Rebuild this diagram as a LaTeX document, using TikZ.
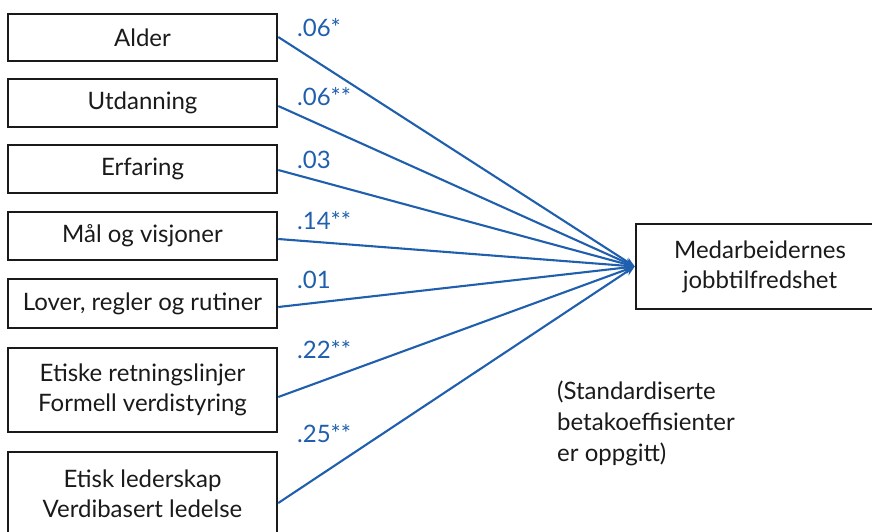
\documentclass[tikz,border=0pt]{standalone}
\usepackage{fontspec}
\setmainfont{Lato}
\usetikzlibrary{arrows.meta}
\definecolor{lineblue}{HTML}{1F5FAD}
\definecolor{boxblack}{HTML}{1A1A1A}
\begin{document}
\begin{tikzpicture}[x=1pt,y=-1pt,
  varbox/.style={draw=boxblack,line width=2.5pt,minimum width=269pt,inner sep=0pt,align=center,font=\fontsize{24}{30}\selectfont,text=boxblack},
  coef/.style={anchor=west,text=lineblue,font=\fontsize{24}{26}\selectfont,inner sep=0pt},
  path/.style={draw=lineblue,line width=2.1pt,-{Stealth[length=10pt,width=8pt]}}]
\useasboundingbox (0,0) rectangle (872,531);
\clip (0,0) rectangle (872,531);
\node[varbox,minimum height=47pt] (b1) at (142.5,37.5) {Alder};
\node[varbox,minimum height=48pt] (b2) at (142.5,103) {Utdanning};
\node[varbox,minimum height=48pt] (b3) at (142.5,169) {Erfaring};
\node[varbox,minimum height=48pt] (b4) at (142.5,236) {Mål og visjoner};
\node[varbox,minimum height=49pt] (b5) at (142.5,303.5) {Lover, regler og rutiner};
\node[varbox,minimum height=84pt] (b6) at (142.5,390) {Etiske retningslinjer\\Formell verdistyring};
\node[varbox,minimum height=84pt] (b7) at (142.5,494) {Etisk lederskap\\Verdibasert ledelse};
\node[varbox,minimum width=248pt,minimum height=85pt] (t) at (760,266.5) {Medarbeidernes\\jobbtilfredshet};
\draw[path] ([yshift=0.5pt]b1.east) -- (t.west);
\draw[path] ([yshift=-3pt]b2.east) -- (t.west);
\draw[path] ([yshift=-1pt]b3.east) -- (t.west);
\draw[path] ([yshift=-3pt]b4.east) -- (t.west);
\draw[path] ([yshift=-3.5pt]b5.east) -- (t.west);
\draw[path] ([yshift=-7pt]b6.east) -- (t.west);
\draw[path] ([yshift=-9pt]b7.east) -- (t.west);
\node[coef] (c1) at (297,28) {.06*};
\node[coef] (c2) at (297,97) {.06**};
\node[coef] (c3) at (297,160) {.03};
\node[coef] (c4) at (297,221) {.14**};
\node[coef] (c5) at (297,280) {.01};
\node[coef] (c6) at (297,350) {.22**};
\node[coef] (c7) at (297,434) {.25**};
\node[anchor=north west,align=left,inner sep=0pt,text=boxblack,font=\fontsize{24}{31}\selectfont] (note) at (557,381) {(Standardiserte\\betakoeffisienter\\er oppgitt)};
\end{tikzpicture}
\end{document}
